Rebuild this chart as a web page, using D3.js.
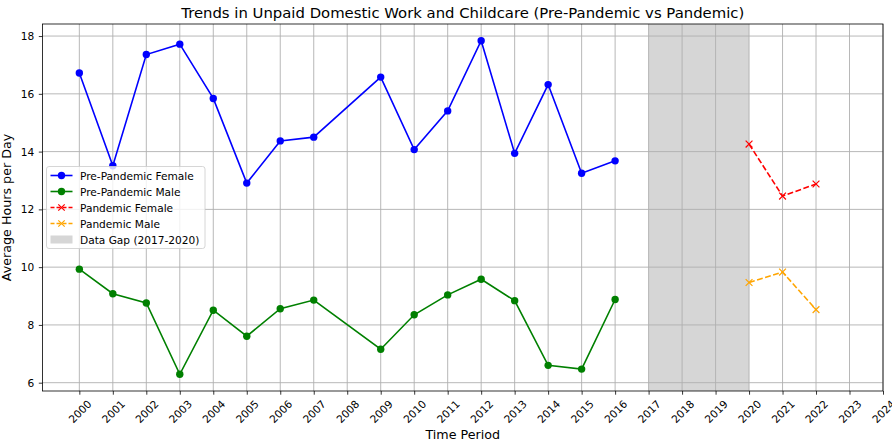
<!DOCTYPE html>
<html><head><meta charset="utf-8">
<script src="https://cdn.jsdelivr.net/npm/d3@7"></script>
<style>body{margin:0;background:#fff}svg{font-family:"DejaVu Sans",sans-serif}</style>
</head><body><svg id="c" width="892" height="443"></svg>
<script>
const preYears = [2000,2001,2002,2003,2004,2005,2006,2007,2009,2010,2011,2012,2013,2014,2015,2016];
const preFemale = [16.72,13.51,17.36,17.72,15.84,12.91,14.37,14.50,16.58,14.07,15.41,17.84,13.94,16.32,13.25,13.68];
const preMale = [9.93,9.08,8.76,6.29,8.51,7.61,8.56,8.86,7.16,8.35,9.04,9.58,8.84,6.60,6.47,8.88];
const panYears = [2020,2021,2022];
const panFemale = [14.26,12.46,12.88];
const panMale = [9.47,9.83,8.53];
const xTicks = d3.range(2000,2025);
const yTicks = [6,8,10,12,14,16,18];
const gap = [2017,2020];
const title = "Trends in Unpaid Domestic Work and Childcare (Pre-Pandemic vs Pandemic)";

const svg = d3.select("#c");
const L=42.5,R=883,T=24,B=391;
const FS=10.6;
const allY = preFemale.concat(preMale,panFemale,panMale);
const ymin=d3.min(allY), ymax=d3.max(allY), pad=(ymax-ymin)*0.05;
const x = d3.scaleLinear().domain([1998.9,2024]).range([L,R]);
const y = d3.scaleLinear().domain([ymin-pad,ymax+pad]).range([B,T]);

svg.append("rect").attr("x",x(gap[0])).attr("y",T).attr("width",x(gap[1])-x(gap[0])).attr("height",B-T)
  .attr("fill","#808080").attr("fill-opacity",0.32);
const g = svg.append("g");
xTicks.forEach(t=>g.append("line").attr("x1",x(t)).attr("x2",x(t)).attr("y1",T).attr("y2",B)
  .attr("stroke","#b0b0b0").attr("stroke-width",0.9));
yTicks.forEach(t=>g.append("line").attr("x1",L).attr("x2",R).attr("y1",y(t)).attr("y2",y(t))
  .attr("stroke","#b0b0b0").attr("stroke-width",0.9));

function series(xs,ys,color,dash,marker){
  const line=d3.line().x((d,i)=>x(xs[i])).y(d=>y(d));
  svg.append("path").datum(ys).attr("d",line).attr("fill","none").attr("stroke",color)
    .attr("stroke-width",1.6).attr("stroke-dasharray",dash||null);
  ys.forEach((v,i)=>{
    if(marker==="o") svg.append("circle").attr("cx",x(xs[i])).attr("cy",y(v)).attr("r",3.7).attr("fill",color);
    else { const s=3.4, cx=x(xs[i]), cy=y(v);
      svg.append("path").attr("d",`M${cx-s},${cy-s}L${cx+s},${cy+s}M${cx-s},${cy+s}L${cx+s},${cy-s}`)
        .attr("stroke",color).attr("stroke-width",1.2); }
  });
}
series(preYears,preFemale,"blue",null,"o");
series(preYears,preMale,"green",null,"o");
series(panYears,panFemale,"red","5.9,2.5","x");
series(panYears,panMale,"orange","5.9,2.5","x");

const xa = svg.append("g").attr("transform",`translate(0,${B})`)
  .call(d3.axisBottom(x).tickValues(xTicks).tickFormat(d3.format("d")).tickSize(3.7).tickPadding(2));
xa.selectAll("text").attr("font-size",FS).attr("fill","#000").attr("text-anchor","middle")
  .attr("dy",null).attr("y",null)
  .attr("transform","translate(0,20.5) rotate(-45)").attr("dominant-baseline","central");
const ya = svg.append("g").attr("transform",`translate(${L},0)`)
  .call(d3.axisLeft(y).tickValues(yTicks).tickSize(3.7).tickPadding(4.5));
ya.selectAll("text").attr("font-size",FS).attr("fill","#000");
[xa,ya].forEach(a=>{a.select(".domain").remove();a.selectAll("line").attr("stroke","#000").attr("stroke-width",0.8);a.attr("font-family",null)});
svg.append("rect").attr("x",L).attr("y",T).attr("width",R-L).attr("height",B-T).attr("fill","none")
  .attr("stroke","#000").attr("stroke-width",0.8);

svg.append("text").attr("x",(L+R)/2).attr("y",18).attr("text-anchor","middle").attr("font-size",14.85).text(title);
svg.append("text").attr("x",(L+R)/2).attr("y",438.5).attr("text-anchor","middle").attr("font-size",12.7).text("Time Period");
svg.append("text").attr("transform",`translate(10.5,${(T+B)/2}) rotate(-90)`).attr("text-anchor","middle").attr("font-size",12.7).text("Average Hours per Day");

const lg = svg.append("g").attr("transform","translate(46.5,166.5)");
lg.append("rect").attr("width",158.5).attr("height",82).attr("rx",2.5).attr("fill","#fff").attr("fill-opacity",0.8)
  .attr("stroke","#cccccc").attr("stroke-width",0.8);
const items=[["Pre-Pandemic Female","blue",null,"o"],["Pre-Pandemic Male","green",null,"o"],
  ["Pandemic Female","red","4,2","x"],["Pandemic Male","orange","4,2","x"],["Data Gap (2017-2020)","#d3d3d3",null,"patch"]];
items.forEach((it,i)=>{
  const cy=9+i*16;
  if(it[3]==="patch"){ lg.append("rect").attr("x",4).attr("y",cy-4).attr("width",22).attr("height",8).attr("fill","#808080").attr("fill-opacity",0.32); }
  else{
    lg.append("line").attr("x1",4).attr("x2",26).attr("y1",cy).attr("y2",cy).attr("stroke",it[1]).attr("stroke-width",1.6).attr("stroke-dasharray",it[2]);
    if(it[3]==="o") lg.append("circle").attr("cx",15).attr("cy",cy).attr("r",3.7).attr("fill",it[1]);
    else lg.append("path").attr("d",`M11.8,${cy-3.2}L18.2,${cy+3.2}M11.8,${cy+3.2}L18.2,${cy-3.2}`).attr("stroke",it[1]).attr("stroke-width",1.2);
  }
  lg.append("text").attr("x",33.5).attr("y",cy).attr("dominant-baseline","central").attr("font-size",FS).text(it[0]);
});
</script></body></html>
